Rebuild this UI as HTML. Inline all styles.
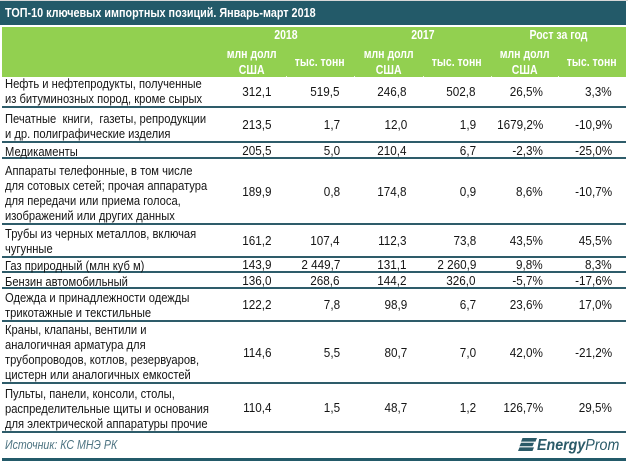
<!DOCTYPE html>
<html>
<head>
<meta charset="utf-8">
<style>
html,body{margin:0;padding:0;background:#fff;}
#c{position:relative;width:628px;height:461px;overflow:hidden;background:#fff;font-family:"Liberation Sans","Noto Sans CJK SC",sans-serif;color:#151515;}
.topline{position:absolute;left:0;top:0;width:628px;height:1px;background:#d8d8d8;}
.title{position:absolute;left:0;top:1px;width:626px;height:24px;background:#235a69;color:#fff;font-weight:bold;font-size:13px;line-height:24px;}
.title span{position:absolute;left:5px;top:0;white-space:nowrap;transform:scaleX(.83);transform-origin:left center;}
.hdr{position:absolute;left:2px;top:27px;width:624px;height:50px;background:#92d050;}
.h{position:absolute;color:#fff;font-weight:bold;font-size:12.5px;white-space:nowrap;text-align:center;}
.h span{display:inline-block;transform:scaleX(.84);transform-origin:center center;}
.dot{position:absolute;top:76px;width:1px;height:1px;background:#e8f5d8;}
.row{position:absolute;left:2px;width:624px;border-bottom:2px solid #2e5c6a;font-size:13px;}
.lab{position:absolute;left:3px;top:0;height:100%;width:214px;display:flex;align-items:flex-end;line-height:15px;}
.lab span{display:inline-block;white-space:nowrap;transform:scaleX(.86);transform-origin:left center;}
.lab.s{line-height:10px;}
.n{position:absolute;top:0;height:100%;display:flex;align-items:center;justify-content:flex-end;white-space:nowrap;}
.n span{display:inline-block;transform:scaleX(.9);transform-origin:right center;}
.c1{left:216px;width:54px;}
.c2{left:284px;width:54px;}
.c3{left:352px;width:53px;}
.c4{left:421px;width:53px;}
.c5{left:489px;width:52px;}
.c6{left:556px;width:54px;}
.src{position:absolute;left:5px;top:437px;font-size:12.5px;font-style:italic;color:#4e7482;white-space:nowrap;transform:scaleX(.85);transform-origin:left center;line-height:16px;}
.logo{position:absolute;left:537px;top:437px;font-size:16px;font-style:italic;color:#2a5a68;white-space:nowrap;line-height:18px;transform:scaleX(.89);transform-origin:left center;}
.bot{position:absolute;left:2px;top:458px;width:624px;height:3px;background:#235a69;}
</style>
</head>
<body>
<div id="c">
  <div class="topline"></div>
  <div class="title"><span>ТОП-10 ключевых импортных позиций. Январь-март 2018</span></div>
  <div class="hdr"></div>

  <div class="h" style="left:218px;width:136px;top:27px;line-height:17px;"><span>2018</span></div>
  <div class="h" style="left:354px;width:137px;top:27px;line-height:17px;"><span>2017</span></div>
  <div class="h" style="left:491px;width:135px;top:27px;line-height:17px;"><span>Рост за год</span></div>

  <div class="h" style="left:218px;width:68px;top:46px;line-height:16px;"><span>млн долл<br>США</span></div>
  <div class="h" style="left:286px;width:68px;top:54px;line-height:16px;"><span>тыс. тонн</span></div>
  <div class="h" style="left:354px;width:69px;top:46px;line-height:16px;"><span>млн долл<br>США</span></div>
  <div class="h" style="left:423px;width:68px;top:54px;line-height:16px;"><span>тыс. тонн</span></div>
  <div class="h" style="left:491px;width:67px;top:46px;line-height:16px;"><span>млн долл<br>США</span></div>
  <div class="h" style="left:558px;width:68px;top:54px;line-height:16px;"><span>тыс. тонн</span></div>
  <div class="dot" style="left:286px"></div>
  <div class="dot" style="left:354px"></div>
  <div class="dot" style="left:423px"></div>
  <div class="dot" style="left:491px"></div>
  <div class="dot" style="left:558px"></div>

  <div class="row" style="top:77px;height:29px;">
    <div class="lab"><span>Нефть и нефтепродукты, полученные<br>из битуминозных пород, кроме сырых</span></div>
    <div class="n c1"><span>312,1</span></div><div class="n c2"><span>519,5</span></div><div class="n c3"><span>246,8</span></div><div class="n c4"><span>502,8</span></div><div class="n c5"><span>26,5%</span></div><div class="n c6"><span>3,3%</span></div>
  </div>

  <div class="row" style="top:108px;height:33px;">
    <div class="lab"><span>Печатные&nbsp; книги,&nbsp; газеты, репродукции<br>и др. полиграфические изделия</span></div>
    <div class="n c1"><span>213,5</span></div><div class="n c2"><span>1,7</span></div><div class="n c3"><span>12,0</span></div><div class="n c4"><span>1,9</span></div><div class="n c5"><span>1679,2%</span></div><div class="n c6"><span>-10,9%</span></div>
  </div>

  <div class="row" style="top:143px;height:14px;">
    <div class="lab s"><span>Медикаменты</span></div>
    <div class="n c1"><span>205,5</span></div><div class="n c2"><span>5,0</span></div><div class="n c3"><span>210,4</span></div><div class="n c4"><span>6,7</span></div><div class="n c5"><span>-2,3%</span></div><div class="n c6"><span>-25,0%</span></div>
  </div>

  <div class="row" style="top:159px;height:64px;">
    <div class="lab"><span>Аппараты телефонные, в том числе<br>для сотовых сетей; прочая аппаратура<br>для передачи или приема голоса,<br>изображений или других данных</span></div>
    <div class="n c1"><span>189,9</span></div><div class="n c2"><span>0,8</span></div><div class="n c3"><span>174,8</span></div><div class="n c4"><span>0,9</span></div><div class="n c5"><span>8,6%</span></div><div class="n c6"><span>-10,7%</span></div>
  </div>

  <div class="row" style="top:225px;height:31px;">
    <div class="lab"><span>Трубы из черных металлов, включая<br>чугунные</span></div>
    <div class="n c1"><span>161,2</span></div><div class="n c2"><span>107,4</span></div><div class="n c3"><span>112,3</span></div><div class="n c4"><span>73,8</span></div><div class="n c5"><span>43,5%</span></div><div class="n c6"><span>45,5%</span></div>
  </div>

  <div class="row" style="top:258px;height:13px;">
    <div class="lab s"><span>Газ природный (млн куб м)</span></div>
    <div class="n c1"><span>143,9</span></div><div class="n c2"><span>2 449,7</span></div><div class="n c3"><span>131,1</span></div><div class="n c4"><span>2 260,9</span></div><div class="n c5"><span>9,8%</span></div><div class="n c6"><span>8,3%</span></div>
  </div>

  <div class="row" style="top:273px;height:14px;">
    <div class="lab s"><span>Бензин автомобильный</span></div>
    <div class="n c1"><span>136,0</span></div><div class="n c2"><span>268,6</span></div><div class="n c3"><span>144,2</span></div><div class="n c4"><span>326,0</span></div><div class="n c5"><span>-5,7%</span></div><div class="n c6"><span>-17,6%</span></div>
  </div>

  <div class="row" style="top:289px;height:31px;">
    <div class="lab"><span>Одежда и принадлежности одежды<br>трикотажные и текстильные</span></div>
    <div class="n c1"><span>122,2</span></div><div class="n c2"><span>7,8</span></div><div class="n c3"><span>98,9</span></div><div class="n c4"><span>6,7</span></div><div class="n c5"><span>23,6%</span></div><div class="n c6"><span>17,0%</span></div>
  </div>

  <div class="row" style="top:322px;height:60px;">
    <div class="lab"><span>Краны, клапаны, вентили и<br>аналогичная арматура для<br>трубопроводов, котлов, резервуаров,<br>цистерн или аналогичных емкостей</span></div>
    <div class="n c1"><span>114,6</span></div><div class="n c2"><span>5,5</span></div><div class="n c3"><span>80,7</span></div><div class="n c4"><span>7,0</span></div><div class="n c5"><span>42,0%</span></div><div class="n c6"><span>-21,2%</span></div>
  </div>

  <div class="row" style="top:384px;height:47px;">
    <div class="lab"><span>Пульты, панели, консоли, столы,<br>распределительные щиты и основания<br>для электрической аппаратуры прочие</span></div>
    <div class="n c1"><span>110,4</span></div><div class="n c2"><span>1,5</span></div><div class="n c3"><span>48,7</span></div><div class="n c4"><span>1,2</span></div><div class="n c5"><span>126,7%</span></div><div class="n c6"><span>29,5%</span></div>
  </div>

  <div class="src">Источник: КС МНЭ РК</div>

  <svg style="position:absolute;left:0;top:0;" width="628" height="461">
    <polygon points="522.5,438 537,438 535.5,441.6 521,441.6" fill="#2a5a68"/>
    <polygon points="521,442.8 534,442.8 532.5,446.2 519.5,446.2" fill="#2a5a68"/>
    <polygon points="519.5,447.4 534,447.4 532.5,451 518,451" fill="#2a5a68"/>
  </svg>
  <div class="logo"><b>Energy</b>Prom</div>

  <div class="bot"></div>
</div>
</body>
</html>
